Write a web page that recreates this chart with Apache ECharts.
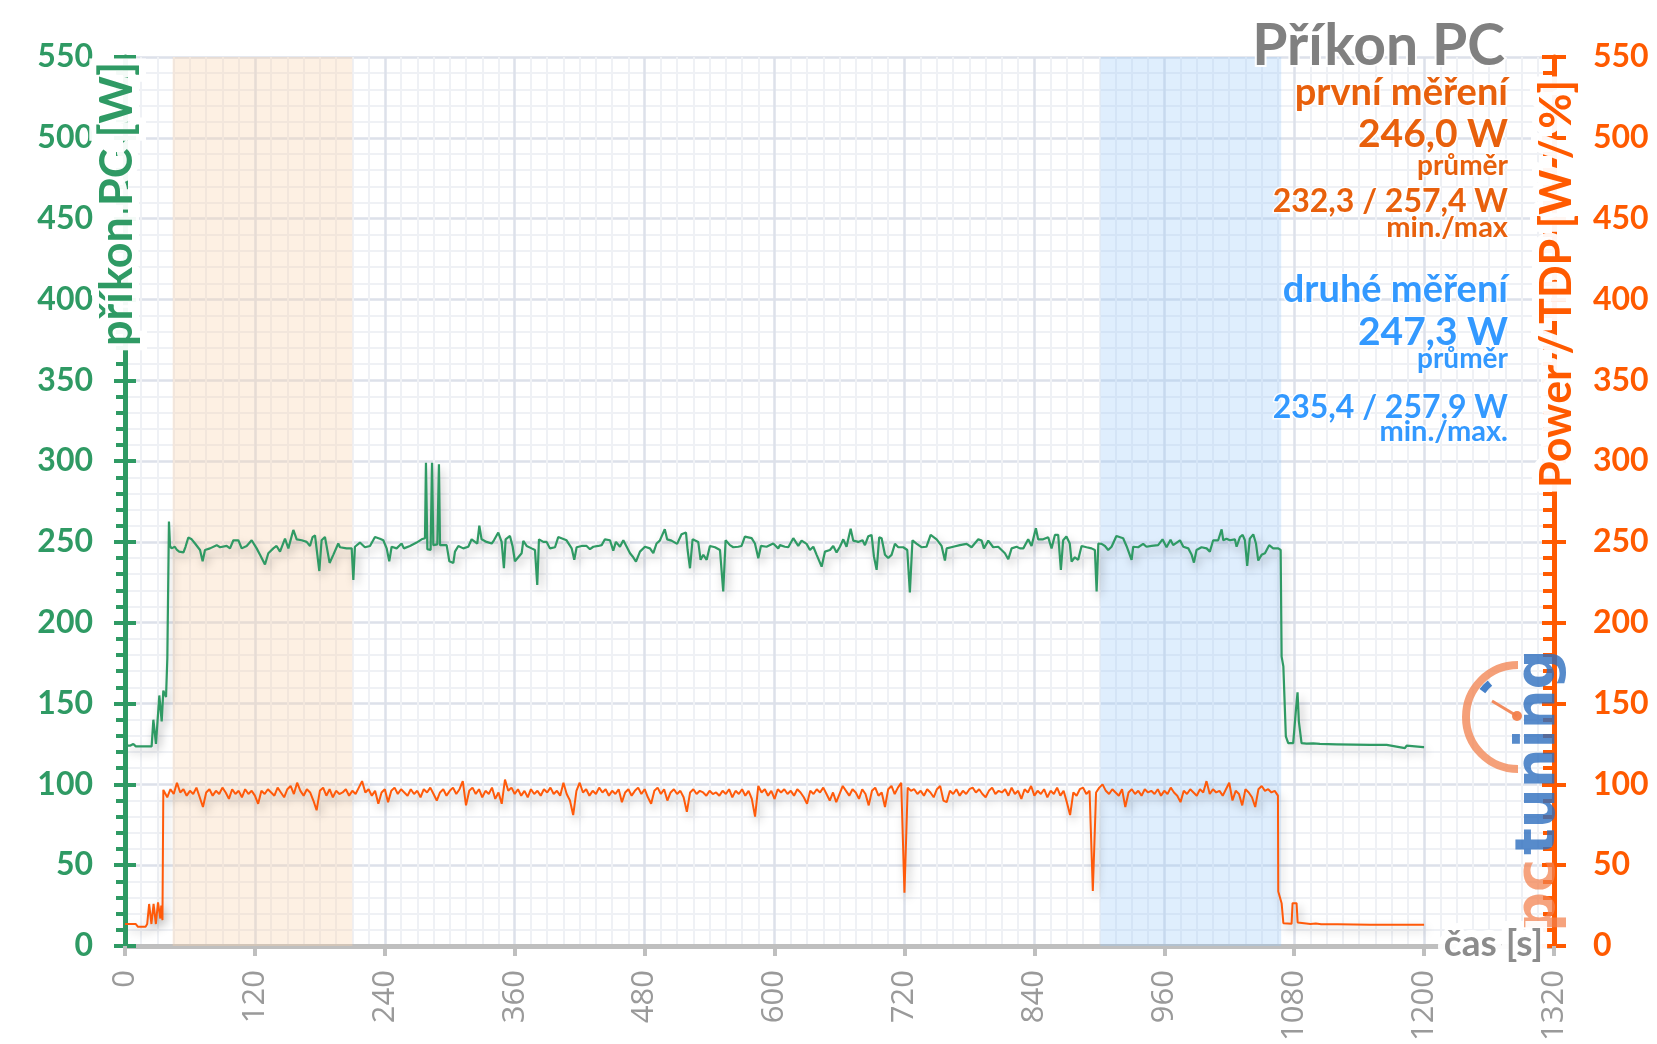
<!DOCTYPE html>
<html>
<head>
<meta charset="utf-8">
<script src="https://cdn.jsdelivr.net/npm/echarts@6/dist/echarts.min.js"></script>
<style>
html,body{margin:0;padding:0;background:#fff;}
#chart{width:1657px;height:1044px;}
</style>
</head>
<body>
<div id="chart"></div>
<script>
// ---- data ----
const xTicks = [0,120,240,360,480,600,720,840,960,1080,1200,1320];
const yTicks = [0,50,100,150,200,250,300,350,400,450,500,550];
const bandFirst = [44, 210];
const bandSecond = [901, 1068];

const greenPoints = [
[0,124],[5,124],[7.7,125],[10,123.5],[24.6,123.5],[26.2,140],[28.6,125],[31.7,155],[33.9,139],[35.4,158],[37.9,154],[39.1,178],[40.6,262.6],[41.6,247.5],[43,246],[46,247],[48,245],[50,244],[54,243.5],[55.9,247],[58.5,252.7],[61.6,251.6],[64.7,249],[69.3,245],[71.7,238],[73.9,245],[78.5,246],[84.7,248],[87.8,246.7],[93.9,247.5],[97,246],[100.1,251],[104.7,251],[107.8,246],[112.4,247.5],[117,251],[121.6,246],[124.7,242],[129.3,236],[132.4,243],[137,246],[140,247.5],[143.2,244],[147.8,252],[150.9,246],[155.5,257.4],[158.6,251.6],[163.2,251],[167.8,250],[170.9,247.5],[173.3,253],[175.5,254],[179.5,232],[181.6,251],[184.7,253],[189,237],[192.4,242],[197,249],
[198.6,246.7],[204.7,246],[209.4,246],[210.9,226.5],[212.4,247],[217,249.6],[221.6,246.7],[226.3,247.5],[230.9,253],[235.5,252],[238.6,251],[241.7,246],[244.1,238],[246.3,247],[250.9,246],[255.5,249],[257.6,246],[263.2,247.5],[269.4,249.6],[274,251.6],[277.1,252.3],[278,299],[279.3,245.5],[282.3,245],[283.6,299],[284.8,248],[288.5,248.5],[290,298],[291,248],[297.1,248],[299.6,238],[303.3,237],[304.8,244],[307.9,247.5],[312.5,246],[317.1,247],[320.2,251.6],[323.3,250],[325.4,249],[327.3,260],[329.4,251.6],[334,250],[338.7,249],[340.8,251],[344.8,255.8],[347.9,250],[350,233.7],[351.6,251.6],[355.6,253.7],[358.1,247],[360.2,238],[363.3,240.5],[366.4,243],[367.9,250.6],[371,247.5],[375.6,246],[378.7,245],[380.8,223.4],[382.4,251.6],[386.4,250],[389.5,250],[392.5,246],[397.2,246.7],[400.2,253],
[401.8,252.9],[407.9,251],[412.6,246],[415,238.9],[417.2,246.7],[421.8,247.5],[426.4,247.5],[429.5,245.5],[432.6,247],[437.2,247.5],[440.3,248],[443.3,251.6],[448,251],[451,244.6],[453.5,250],[457.2,247],[460.3,251],[463.4,247],[466.5,243],[468.9,241],[472,237.8],[475.7,244],[480.3,247],[484.9,246],[488,243],[491,249],[494,250.8],[498.6,257.8],[500.8,251.6],[504.8,250.8],[510,248.8],[514.1,254.7],[518.2,255.8],[519.7,245],[521.9,233.7],[524.3,251.6],[526,252.7],[529.5,250],[531.7,238.9],[534.2,242],[537.3,238.9],[540.3,247.5],[545,246.7],[549.6,245],[552.6,219.3],[554.8,251],[558.8,248],[561.9,246.7],[566.5,247],[569.5,247.5],[572.6,253.3],[578.8,252.3],[581.9,249],[585,239.9],[587.4,247.5],[592.6,247],[598.8,249],[603.4,246],
[605,248],[609.6,247],[612.7,246.7],[617.3,252.3],[621.9,247.5],[625,250.8],[629.6,248.8],[632.7,245],[635.8,247],[638.9,242],[643.5,234.7],[646.6,244],[651.2,245],[654.2,247.5],[657.3,243.5],[660.4,247],[663.5,251.6],[666.5,247],[670.3,258.2],[672.7,250.8],[677.3,250],[681.3,251],[683.5,248],[686.6,253.5],[689.6,254.3],[691.8,241],[694.3,232.7],[696.7,252.9],[698.9,252.3],[702,242],[705,240],[708.1,242],[711.2,248.8],[714.3,246.7],[718.9,246.7],[722.6,245],[725,218.7],[727.4,251],[731.1,249],[735.7,246.7],[740.3,247],[744.2,254.3],[749.7,251.6],[754.3,247.5],[757.4,238.5],[759,246],[765.1,247],[771.2,248],[777.4,248.8],[782,246.7],[788.2,251.6],[791.3,250.8],[793.4,246],[797.4,250.8],[802,246.7],[806.6,247],
[808.2,247],[812.8,243],[815.9,239.3],[819,246],[823.6,247],[826.7,246],[829.8,246],[834.3,251.6],[837.4,247.5],[841.4,258.5],[843.5,251.6],[848.1,251.6],[852.8,252.9],[855.9,246],[859,254.3],[862,254.3],[864.5,232.7],[866.6,251],[869.6,253.3],[872.7,249],[874.4,237.8],[877.4,240.5],[880.5,238.9],[883.6,247.5],[888.2,246.7],[892.8,246],[895.9,245],[897.5,219.3],[899.1,249],[902.1,248.8],[905.2,247.5],[908.2,245],[911.3,247],[915.8,253.7],[922,252.3],[925.1,247.5],[929.8,238.9],[931.3,247],[935.9,246.7],[940.5,248.8],[943.6,247],[948.2,247.5],[954.3,248],[958.4,251.6],[962.1,246.7],[965.8,251.3],[968.2,248],[974.5,251],[977.6,247],[982.2,246],[985.3,242],[987.4,237.2],[989.8,245],[994.4,246.7],[999.1,246],[1002.1,244],[1005.2,251],[1009.8,251],
[1013,257.8],[1014.5,251],[1017.5,252],[1020.6,251],[1025.2,251.6],[1026.8,247],[1029.9,253],[1032.4,254.3],[1034.5,251],[1036.6,235.2],[1039,252],[1042.2,254.7],[1044.7,249],[1046.8,238.5],[1049.9,242],[1053,243],[1056.9,248],[1060.6,246],[1065.3,246],[1067.5,245],[1068.4,179],[1070,173],[1072.3,129.7],[1074.5,125.5],[1079.1,125.5],[1081.6,146],[1083.1,157],[1084.3,139],[1086.8,125.5],[1091.4,125.2],[1097.6,125.3],[1103.7,125],[1119.2,124.8],[1134.6,124.6],[1150,124.4],[1165.4,124.4],[1182.3,122.4],[1183.9,124],[1199.2,123],[1200,123]
];

const orangePoints = [
[0,13.6],[10,13.6],[12,11.9],[19,11.9],[20.5,13.6],[22.3,26],[24.4,13.6],[26.4,26],[28.5,13.6],[30.5,27],[32.6,17],[33.5,25],[34.6,16],[35.4,96.6],
[36,96],[39,92],[42,97],[45,94],[48,101],[51,95],[54,97],[57,93],[60,96],[63,94],[66,98],[69,92],[72,86],[75,95],[78,97],[81,93],[84,96],[87,94],[90,98],[93,95],[96,91],[99,97],[102,94],[105,96],[108,92],[111,97],[114,94],[117,96],[120,93],[123,88],[126,96],[129,94],[132,97],[135,95],[138,93],[141,98],[144,95],[147,92],[150,97],[153,99],[156,94],[159,101],[162,96],[165,93],[168,97],[171,95],[174,90],[177,84],[180,96],[183,98],[186,93],[189,97],[192,92],[195,96],[198,94],
[201,95],[204,97],[207,93],[210,96],[213,94],[216,98],[219,102],[222,95],[225,97],[228,93],[231,96],[234,88],[237,95],[240,97],[243,89],[246,96],[249,98],[252,94],[255,97],[258,95],[261,93],[264,97],[267,94],[270,96],[273,92],[276,97],[279,95],[282,98],[285,94],[288,90],[291,95],[294,97],[297,93],[300,96],[303,98],[306,94],[309,97],[312,102],[315,87],[318,96],[321,98],[324,94],[327,97],[330,92],[333,96],[336,94],[339,98],[342,91],[345,95],[348,88],[351,103],[354,96],[357,98],[360,94],[363,97],[366,93],[369,96],[372,92],[375,97],[378,94],[381,96],[384,93],[387,97],[390,95],[393,98],[396,94],[399,96],[402,93],
[405,101],[408,94],[411,90],[414,81],[417,96],[420,101],[423,95],[426,97],[429,93],[432,96],[435,94],[438,98],[441,95],[444,97],[447,93],[450,96],[453,94],[456,97],[459,89],[462,95],[465,97],[468,93],[471,96],[474,98],[477,94],[480,97],[483,92],[486,88],[489,96],[492,98],[495,94],[498,97],[501,90],[504,95],[507,97],[510,94],[513,96],[516,92],[519,83],[522,95],[525,97],[528,94],[531,96],[534,95],[537,93],[540,96],[543,94],[546,95],[549,93],[552,96],[555,94],[558,97],[561,92],[564,96],[567,94],[570,97],[573,93],[576,96],[579,91],[582,80],[585,99],[588,95],[591,97],[594,93],[597,96],[600,91],[603,97],
[606,95],[609,97],[612,94],[615,96],[618,93],[621,97],[624,95],[627,92],[630,88],[633,96],[636,94],[639,97],[642,95],[645,98],[648,94],[651,90],[654,95],[657,89],[660,94],[663,99],[666,96],[669,93],[672,97],[675,95],[678,91],[681,97],[684,94],[687,87],[690,96],[693,98],[696,93],[699,95],[702,86],[705,97],[708,99],[711,94],[714,98],[717,101],[720,33],[723,98],[726,96],[729,97],[732,94],[735,96],[738,93],[741,97],[744,95],[747,92],[750,97],[753,99],[756,90],[759,89],[762,96],[765,94],[768,97],[771,93],[774,96],[777,94],[780,97],[783,98],[786,95],[789,97],[792,94],[795,92],[798,96],[801,98],[804,94],[807,96],
[810,95],[813,97],[816,93],[819,98],[822,94],[825,96],[828,91],[831,97],[834,95],[837,99],[840,93],[843,96],[846,94],[849,97],[852,92],[855,96],[858,94],[861,98],[864,93],[867,96],[870,89],[873,81],[876,95],[879,93],[882,97],[885,98],[888,94],[891,96],[894,34],[897,95],[900,98],[903,100],[906,96],[909,94],[912,97],[915,95],[918,93],[921,97],[924,86],[927,95],[930,97],[933,94],[936,96],[939,93],[942,97],[945,95],[948,96],[951,94],[954,97],[957,93],[960,96],[963,94],[966,98],[969,95],[972,93],[975,89],[978,96],[981,94],[984,97],[987,95],[990,93],[993,97],[996,95],[999,102],[1002,94],[1005,97],[1008,95],
[1011,96],[1014,93],[1017,97],[1020,101],[1023,90],[1026,96],[1029,94],[1032,87],[1035,97],[1038,95],[1041,92],[1044,86],[1047,97],[1050,99],[1053,96],[1056,97],[1059,95],[1062,96],[1065,93],
[1065.3,33.7],[1066.9,32.7],[1068.4,26.5],[1070,14.1],[1077.6,13.7],[1078.5,26.5],[1082.2,26.5],[1083.2,14.5],[1095,13.6],[1100,13.9],[1105,13.4],[1120,13.5],[1150,13.2],[1200,13.1]
];

const titleText = 'Příkon PC';
const leftAxisName = 'příkon PC [W]';
const rightAxisName = 'Power / TDP [W / %]';
const xAxisName = 'čas [s]';
const firstLines = ['první měření','246,0 W','průměr','232,3 / 257,4 W','min./max'];
const secondLines = ['druhé měření','247,3 W','průměr','235,4 / 257,9 W','min./max.'];

// ---- styles ----
const GREEN = '#2f9a64';
const ORANGE = '#ff5a00';
const ORANGE_TXT = '#e8600c';
const BLUE_TXT = '#3399ff';
const FONT = 'Lato';

const chart = echarts.init(document.getElementById('chart'));

function yAxisBase(extra){
  return Object.assign({
    type:'value', min:yTicks[0], max:yTicks[yTicks.length-1], interval:50,
    splitLine:{show:false}, minorSplitLine:{show:false},
    axisLabel:{show:false}, axisLine:{show:false}
  }, extra);
}

const lineShadow = {shadowColor:'rgba(0,0,0,0.28)', shadowBlur:10, shadowOffsetX:3, shadowOffsetY:5};

function txt(text, y, size, color){
  return {
    type:'text', x:1508, y:y, z:100,
    style:{text:text, fill:color, font:'bold '+size+'px '+FONT, textAlign:'right', textVerticalAlign:'middle',
      stroke:'rgba(255,255,255,0.85)', lineWidth:3,
      shadowColor:'rgba(0,0,0,0.15)', shadowBlur:3, shadowOffsetY:1}
  };
}
function glowText(text, x, y, size, rot, align){
  return {
    type:'text', x:x, y:y, rotation:rot, z:99,
    style:{text:text, fill:'#ffffff', font:'bold '+size+'px '+FONT, textAlign:align, textVerticalAlign:'middle',
      stroke:'rgba(255,255,255,0.95)', lineWidth:14, shadowColor:'#ffffff', shadowBlur:8}
  };
}
function plainText(text, x, y, size, color, rot, align){
  return {
    type:'text', x:x, y:y, rotation:rot, z:100,
    style:{text:text, fill:color, font:'bold '+size+'px '+FONT, textAlign:align, textVerticalAlign:'middle'}
  };
}

const option = {
  animation:false,
  backgroundColor:'#fff',
  grid:{left:125, right:103, top:57, bottom:98, containLabel:false, outerBoundsMode:'none'},
  xAxis:{
    type:'value', min:xTicks[0], max:xTicks[xTicks.length-1], interval:120,
    axisLine:{show:true, lineStyle:{color:'#bfbfbf', width:5}},
    axisTick:{show:true, length:10, lineStyle:{color:'#bfbfbf', width:4}},
    axisLabel:{rotate:90, margin:24, color:'#9a9a9a', fontSize:31, fontFamily:'Open Sans', formatter:v => String(v)},
    splitLine:{show:true, lineStyle:{color:'#dde1ea', width:2.5}},
    minorTick:{show:false, splitNumber:8},
    minorSplitLine:{show:true, lineStyle:{color:'#eff1f5', width:2}}
  },
  yAxis:[
    {
      type:'value', position:'left', min:yTicks[0], max:yTicks[yTicks.length-1], interval:50,
      axisLine:{show:true, lineStyle:{color:GREEN, width:5}},
      axisTick:{show:true, inside:false, length:11, lineStyle:{color:GREEN, width:4}},
      minorTick:{show:true, splitNumber:5, length:9, lineStyle:{color:GREEN, width:4}},
      axisLabel:{color:GREEN, fontSize:32, fontWeight:'bold', fontFamily:FONT, margin:32},
      splitLine:{show:true, lineStyle:{color:'#dde1ea', width:2.5}},
      minorSplitLine:{show:true, lineStyle:{color:'#eff1f5', width:2}}
    },
    {
      type:'value', position:'right', min:yTicks[0], max:yTicks[yTicks.length-1], interval:50,
      axisLine:{show:true, lineStyle:{color:ORANGE, width:5}},
      axisTick:{show:true, inside:true, length:12, lineStyle:{color:ORANGE, width:4}},
      minorTick:{show:true, splitNumber:5, length:11, lineStyle:{color:ORANGE, width:4}},
      axisLabel:{color:ORANGE, fontSize:32, fontWeight:'bold', fontFamily:FONT, margin:39},
      splitLine:{show:false}
    },
    yAxisBase({position:'left', axisTick:{show:true, inside:true, length:11, lineStyle:{color:GREEN, width:4}}}),
    yAxisBase({position:'right', axisTick:{show:true, inside:false, length:12, lineStyle:{color:ORANGE, width:4}}})
  ],
  series:[
    {
      type:'line', name:'PC', yAxisIndex:0, data:greenPoints, showSymbol:false, symbol:'none', z:4,
      lineStyle:Object.assign({color:GREEN, width:2.2}, lineShadow),
      markArea:{silent:true, data:[
        [{xAxis:bandFirst[0], itemStyle:{color:'rgba(250,210,170,0.33)'}},{xAxis:bandFirst[1]}],
        [{xAxis:bandSecond[0], itemStyle:{color:'rgba(150,200,250,0.3)'}},{xAxis:bandSecond[1]}]
      ]}
    },
    {
      type:'line', name:'Power', yAxisIndex:1, data:orangePoints, showSymbol:false, symbol:'none', z:5,
      lineStyle:Object.assign({color:'#ff5a0a', width:2}, lineShadow)
    }
  ],
  graphic:[
    glowText(leftAxisName, 117, 62, 45, Math.PI/2, 'right'),
    plainText(leftAxisName, 117, 62, 45, GREEN, Math.PI/2, 'right'),
    glowText(rightAxisName, 1557, 80, 43, Math.PI/2, 'right'),
    plainText(rightAxisName, 1557, 80, 43, ORANGE, Math.PI/2, 'right'),
    glowText(xAxisName, 1543, 944, 37, 0, 'right'),
    plainText(xAxisName, 1543, 944, 37, '#8c8c8c', 0, 'right'),
    {type:'text', x:1505, y:47, z:100, style:{text:titleText, fill:'#808080', font:'bold 57px '+FONT, textAlign:'right', textVerticalAlign:'middle',
      stroke:'rgba(255,255,255,0.9)', lineWidth:4, shadowColor:'rgba(0,0,0,0.25)', shadowBlur:4, shadowOffsetX:1, shadowOffsetY:2}},
    txt(firstLines[0], 93, 38, ORANGE_TXT),
    txt(firstLines[1], 134, 39, ORANGE_TXT),
    txt(firstLines[2], 166, 28, ORANGE_TXT),
    txt(firstLines[3], 202, 32, ORANGE_TXT),
    txt(firstLines[4], 228, 29, ORANGE_TXT),
    txt(secondLines[0], 290, 38, BLUE_TXT),
    txt(secondLines[1], 332, 39, BLUE_TXT),
    txt(secondLines[2], 359, 28, BLUE_TXT),
    txt(secondLines[3], 408, 32, BLUE_TXT),
    txt(secondLines[4], 432, 29, BLUE_TXT),
    // watermark logo
    {type:'arc', z:50, shape:{cx:1518, cy:717, r:52, startAngle:Math.PI/2, endAngle:Math.PI*1.5, clockwise:true},
      style:{fill:null, stroke:'rgba(242,128,76,0.75)', lineWidth:8}},
    {type:'arc', z:51, shape:{cx:1518, cy:717, r:44, startAngle:Math.PI*1.2, endAngle:Math.PI*1.28, clockwise:true},
      style:{fill:null, stroke:'rgba(50,115,195,0.9)', lineWidth:7}},
    {type:'line', z:51, shape:{x1:1492, y1:701, x2:1517, y2:716}, style:{stroke:'rgba(242,128,76,0.9)', lineWidth:3}},
    {type:'circle', z:51, shape:{cx:1517, cy:716, r:5}, style:{fill:'rgba(242,128,76,0.95)'}},
    {type:'text', x:1567, y:932, rotation:Math.PI/2, z:52,
      style:{text:'pc', fill:'rgba(242,128,76,0.72)', font:'bold 56px "DejaVu Sans"', textAlign:'left', textVerticalAlign:'bottom'}},
    {type:'text', x:1567, y:855, rotation:Math.PI/2, z:52,
      style:{text:'tuning', fill:'rgba(45,110,190,0.8)', font:'bold 56px "DejaVu Sans"', textAlign:'left', textVerticalAlign:'bottom'}}
  ]
};
chart.setOption(option);
</script>
</body>
</html>
